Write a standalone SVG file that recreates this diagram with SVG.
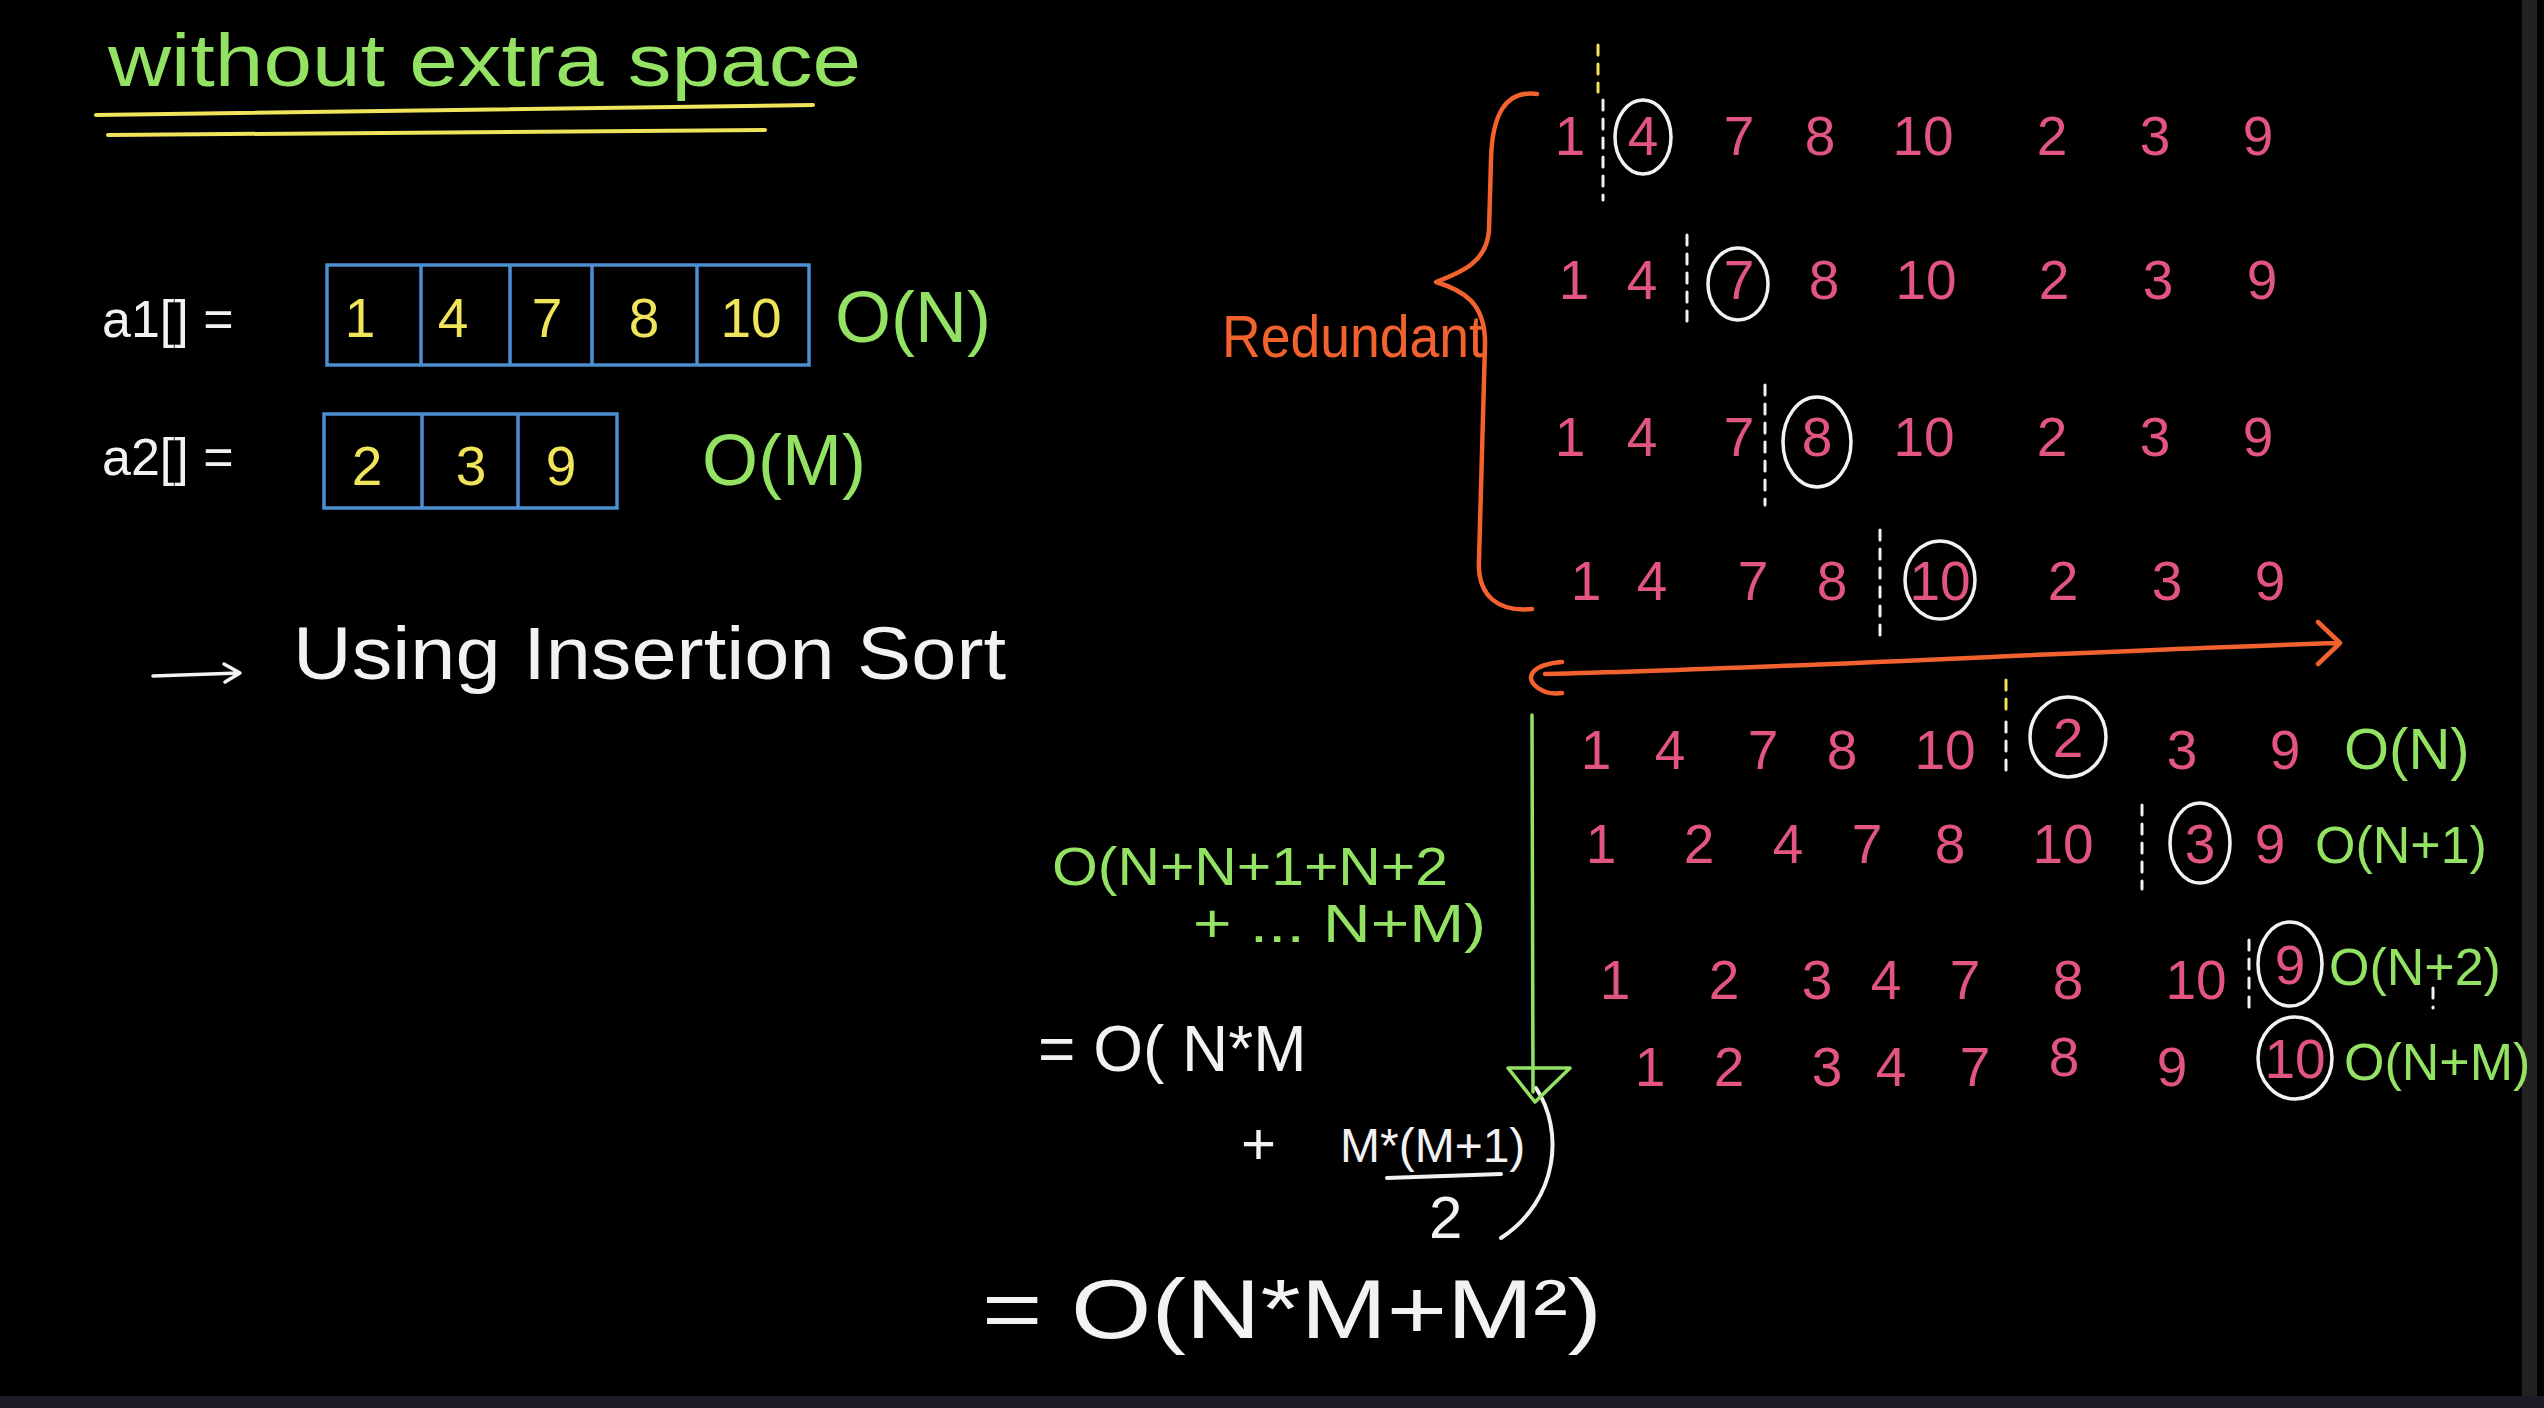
<svg xmlns="http://www.w3.org/2000/svg" width="2544" height="1408" viewBox="0 0 2544 1408">
<defs>
<style>
text{font-family:"Liberation Sans","DejaVu Sans",sans-serif;}
.w{fill:#f2f2f2}.p{fill:#e2557f}.g{fill:#93e263}.y{fill:#efe45a}.o{fill:#f2622e}
.d{font-size:55px;text-anchor:middle}
.cir{fill:none;stroke:#f2f2f2;stroke-width:3.5}
.sep{stroke:#f2f2f2;stroke-width:3;stroke-dasharray:10 9;stroke-linecap:round}
.sepy{stroke:#efe45a;stroke-width:3;stroke-dasharray:10 9;stroke-linecap:round}
.box{fill:none;stroke:#4b8fcf;stroke-width:3.5}
.ln{fill:none;stroke-linecap:round;stroke-linejoin:round}
</style>
</defs>
<rect width="2544" height="1408" fill="#000"/>
<rect x="2522" y="0" width="15" height="1408" fill="#222"/>
<rect x="0" y="1396" width="2544" height="12" fill="#1c1c24"/>

<g id="title">
<text x="108" y="86" class="g" font-size="74" textLength="753" lengthAdjust="spacingAndGlyphs">without extra space</text>
<path class="ln" d="M96,115 L813,105" stroke="#efe45a" stroke-width="4"/>
<path class="ln" d="M108,135 L765,130" stroke="#efe45a" stroke-width="4"/>
</g>

<g id="a1">
<text x="102" y="337" class="w" font-size="52">a1[] =</text>
<rect class="box" x="327" y="265" width="482" height="100"/>
<path class="box" d="M421,265V365M510,265V365M592,265V365M697,265V365"/>
<text class="y d" x="360" y="337" font-size="58">1</text>
<text class="y d" x="453" y="337" font-size="58">4</text>
<text class="y d" x="547" y="337" font-size="58">7</text>
<text class="y d" x="644" y="337" font-size="58">8</text>
<text class="y d" x="751" y="337" font-size="58">10</text>
<text x="835" y="342" class="g" font-size="72">O(N)</text>
</g>

<g id="a2">
<text x="102" y="475" class="w" font-size="52">a2[] =</text>
<rect class="box" x="324" y="414" width="293" height="94"/>
<path class="box" d="M422,414V508M518,414V508"/>
<text class="y d" x="367" y="485" font-size="58">2</text>
<text class="y d" x="471" y="485" font-size="58">3</text>
<text class="y d" x="561" y="485" font-size="58">9</text>
<text x="702" y="485" class="g" font-size="72">O(M)</text>
</g>

<g id="using">
<text x="293" y="679" class="w" font-size="74" textLength="713" lengthAdjust="spacingAndGlyphs">Using Insertion Sort</text>
</g>

<g id="row1">
<text class="p d" x="1570" y="155">1</text><text class="p d" x="1643" y="155">4</text><text class="p d" x="1739" y="155">7</text><text class="p d" x="1820" y="155">8</text><text class="p d" x="1923" y="155">10</text><text class="p d" x="2052" y="155">2</text><text class="p d" x="2155" y="155">3</text><text class="p d" x="2258" y="155">9</text>
<ellipse class="cir" cx="1643" cy="137" rx="28" ry="37"/>
<path class="sepy" d="M1598,45V92"/><path class="sep" d="M1603,100V200"/>
</g>
<g id="row2">
<text class="p d" x="1574" y="299">1</text><text class="p d" x="1642" y="299">4</text><text class="p d" x="1739" y="299">7</text><text class="p d" x="1824" y="299">8</text><text class="p d" x="1926" y="299">10</text><text class="p d" x="2054" y="299">2</text><text class="p d" x="2158" y="299">3</text><text class="p d" x="2262" y="299">9</text>
<ellipse class="cir" cx="1738" cy="284" rx="30" ry="36"/>
<path class="sep" d="M1687,235V325"/>
</g>
<g id="row3">
<text class="p d" x="1570" y="456">1</text><text class="p d" x="1642" y="456">4</text><text class="p d" x="1739" y="456">7</text><text class="p d" x="1817" y="456">8</text><text class="p d" x="1924" y="456">10</text><text class="p d" x="2052" y="456">2</text><text class="p d" x="2155" y="456">3</text><text class="p d" x="2258" y="456">9</text>
<ellipse class="cir" cx="1817" cy="442" rx="34" ry="45"/>
<path class="sep" d="M1765,385V505"/>
</g>
<g id="row4">
<text class="p d" x="1586" y="600">1</text><text class="p d" x="1652" y="600">4</text><text class="p d" x="1753" y="600">7</text><text class="p d" x="1832" y="600">8</text><text class="p d" x="1940" y="600">10</text><text class="p d" x="2063" y="600">2</text><text class="p d" x="2167" y="600">3</text><text class="p d" x="2270" y="600">9</text>
<ellipse class="cir" cx="1940" cy="580" rx="35" ry="39"/>
<path class="sep" d="M1880,530V635"/>
</g>

<g id="redundant">
<text x="1222" y="357" class="o" font-size="60" textLength="262" lengthAdjust="spacingAndGlyphs">Redundant</text>
</g>

<g id="row5">
<text class="p d" x="1596" y="769">1</text><text class="p d" x="1670" y="769">4</text><text class="p d" x="1763" y="769">7</text><text class="p d" x="1842" y="769">8</text><text class="p d" x="1945" y="769">10</text><text class="p d" x="2068" y="757">2</text><text class="p d" x="2182" y="769">3</text><text class="p d" x="2285" y="769">9</text>
<ellipse class="cir" cx="2068" cy="737" rx="38" ry="40"/>
<path class="sepy" d="M2006,680V712"/><path class="sep" d="M2006,722V778"/>
<text x="2344" y="769" class="g" font-size="58">O(N)</text>
</g>
<g id="row6">
<text class="p d" x="1601" y="863">1</text><text class="p d" x="1699" y="863">2</text><text class="p d" x="1788" y="863">4</text><text class="p d" x="1867" y="863">7</text><text class="p d" x="1950" y="863">8</text><text class="p d" x="2063" y="863">10</text><text class="p d" x="2200" y="863">3</text><text class="p d" x="2270" y="863">9</text>
<ellipse class="cir" cx="2200" cy="843" rx="30" ry="40"/>
<path class="sep" d="M2142,805V889"/>
<text x="2315" y="863" class="g" font-size="52">O(N+1)</text>
</g>
<g id="row7">
<text class="p d" x="1615" y="999">1</text><text class="p d" x="1724" y="999">2</text><text class="p d" x="1817" y="999">3</text><text class="p d" x="1886" y="999">4</text><text class="p d" x="1965" y="999">7</text><text class="p d" x="2068" y="999">8</text><text class="p d" x="2196" y="999">10</text><text class="p d" x="2290" y="984">9</text>
<ellipse class="cir" cx="2290" cy="964" rx="32" ry="42"/>
<path class="sep" d="M2249,940V1012"/><path class="sep" d="M2433,988V1008"/>
<text x="2329" y="985" class="g" font-size="52">O(N+2)</text>
</g>
<g id="row8">
<text class="p d" x="1650" y="1086">1</text><text class="p d" x="1729" y="1086">2</text><text class="p d" x="1827" y="1086">3</text><text class="p d" x="1891" y="1086">4</text><text class="p d" x="1975" y="1086">7</text><text class="p d" x="2064" y="1076">8</text><text class="p d" x="2172" y="1086">9</text><text class="p d" x="2295" y="1078">10</text>
<ellipse class="cir" cx="2295" cy="1058" rx="37" ry="41"/>
<text x="2344" y="1080" class="g" font-size="52">O(N+M)</text>
</g>

<g id="sum">
<text x="1052" y="885" class="g" font-size="54" textLength="396" lengthAdjust="spacingAndGlyphs">O(N+N+1+N+2</text>
<text x="1193" y="942" class="g" font-size="54" textLength="293" lengthAdjust="spacingAndGlyphs">+ ... N+M)</text>
</g>
<g id="eq1">
<text x="1038" y="1071" class="w" font-size="64">= O( N*M</text>
<text x="1241" y="1164" class="w" font-size="60">+</text>
<text x="1340" y="1162" class="w" font-size="48">M*(M+1)</text>
<path class="ln" d="M1387,1178 L1501,1174" stroke="#f2f2f2" stroke-width="4"/>
<text x="1429" y="1238" class="w" font-size="60">2</text>
<path class="ln" d="M1536,1088 C1564,1130 1559,1200 1501,1238" stroke="#f2f2f2" stroke-width="4"/>
</g>
<g id="eq2">
<text x="982" y="1338" class="w" font-size="84" textLength="620" lengthAdjust="spacingAndGlyphs">=  O(N*M+M²)</text>
</g>

<g id="connectors">
<path class="ln" d="M153,676 L239,673 M224,664 L240,673 L225,682" stroke="#f2f2f2" stroke-width="3.5"/>
<path class="ln" d="M1537,94 C1505,90 1492,115 1491,160 L1489,230 C1487,262 1462,272 1436,282 C1462,290 1486,302 1485,345 L1479,560 C1477,598 1500,612 1532,609" stroke="#f2622e" stroke-width="4.5"/>
<path class="ln" d="M1545,674 C1800,668 2100,650 2339,643 M2318,622 L2340,643 L2318,664 M1562,662 C1535,664 1522,676 1538,688 C1546,694 1554,694 1562,693" stroke="#f2622e" stroke-width="4.5"/>
<path class="ln" d="M1532,715 L1533,1092 M1508,1068 L1570,1068 L1535,1102 Z" stroke="#93e263" stroke-width="3.5"/>
</g>
</svg>
